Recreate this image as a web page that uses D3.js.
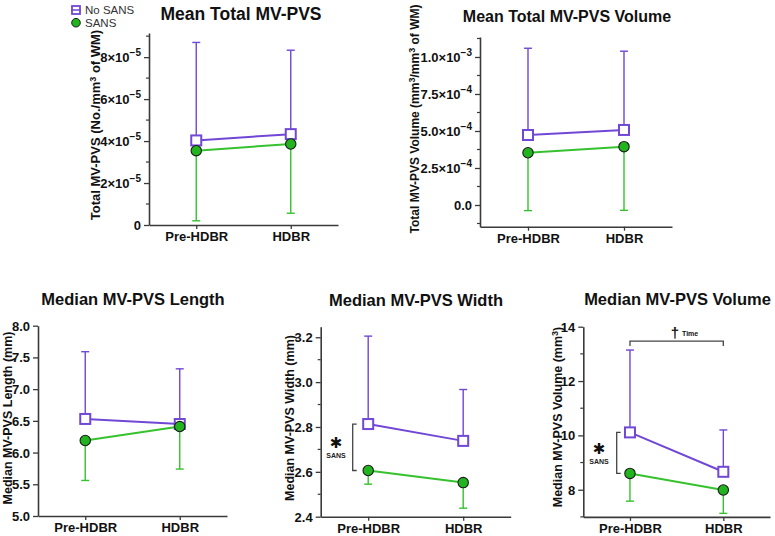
<!DOCTYPE html>
<html><head><meta charset="utf-8">
<script src="https://cdn.jsdelivr.net/npm/d3@7"></script>
<style>
body{margin:0;background:#fff;}
svg text{font-family:"Liberation Sans",Arial,Helvetica,sans-serif;}
</style></head>
<body><svg id="c" width="775" height="536"></svg>
<script>
// ---------- data ----------
const categories = ["Pre-HDBR", "HDBR"];
const seriesNames = ["No SANS", "SANS"];

// Panel 1: Mean Total MV-PVS
const p1NoSans = [4.03e-5, 4.33e-5];
const p1NoSansUpper = [8.70e-5, 8.33e-5];
const p1Sans = [3.54e-5, 3.86e-5];
const p1SansLower = [0.20e-5, 0.56e-5];
const p1Ticks = [0, 2e-5, 4e-5, 6e-5, 8e-5];
const p1TickLabels = [["0", ""], ["2×10", "-5"], ["4×10", "-5"], ["6×10", "-5"], ["8×10", "-5"]];

// Panel 2: Mean Total MV-PVS Volume
const p2NoSans = [4.73e-4, 5.07e-4];
const p2NoSansUpper = [10.59e-4, 10.39e-4];
const p2Sans = [3.53e-4, 3.94e-4];
const p2SansLower = [-0.38e-4, -0.36e-4];
const p2Ticks = [0, 2.5e-4, 5e-4, 7.5e-4, 1e-3];
const p2TickLabels = [["0.0", ""], ["2.5×10", "-4"], ["5.0×10", "-4"], ["7.5×10", "-4"], ["1.0×10", "-3"]];

// Panel 3: Median MV-PVS Length
const p3NoSans = [6.53, 6.45];
const p3NoSansUpper = [7.59, 7.32];
const p3Sans = [6.19, 6.41];
const p3SansLower = [5.56, 5.74];
const p3Ticks = [5.0, 5.5, 6.0, 6.5, 7.0, 7.5, 8.0];
const p3TickLabels = [["5.0",""],["5.5",""],["6.0",""],["6.5",""],["7.0",""],["7.5",""],["8.0",""]];

// Panel 4: Median MV-PVS Width
const p4NoSans = [2.813, 2.738];
const p4NoSansUpper = [3.205, 2.967];
const p4Sans = [2.606, 2.552];
const p4SansLower = [2.545, 2.438];
const p4Ticks = [2.4, 2.6, 2.8, 3.0, 3.2];
const p4TickLabels = [["2.4",""],["2.6",""],["2.8",""],["3.0",""],["3.2",""]];

// Panel 5: Median MV-PVS Volume
const p5NoSans = [10.11, 8.66];
const p5NoSansUpper = [13.14, 10.20];
const p5Sans = [8.60, 7.99];
const p5SansLower = [7.58, 7.13];
const p5Ticks = [8, 10, 12, 14];
const p5TickLabels = [["8",""],["10",""],["12",""],["14",""]];
const p5TimeBracket = 13.47;

// ---------- style ----------
const PURPLE = "#7147d6";
const GREEN = "#36c22f";
const GREEN_FILL = "#22b41e";
const AXIS = "#3a3a3a";
const svg = d3.select("#c");

const panels = [
  {title:"Mean Total MV-PVS", ylab:["Total MV-PVS (No./mm", "3", " of WM)"],
   x0:149, x1:338, yb:225, yt:33, dom:[0, 9.15e-5], minor:1e-5,
   ns:p1NoSans, nsU:p1NoSansUpper, s:p1Sans, sL:p1SansLower, ticks:p1Ticks, tl:p1TickLabels,
   tx:241, ty:20, tfs:17.5, lx:100, ly:125, lfs:13},
  {title:"Mean Total MV-PVS Volume", ylab:["Total MV-PVS Volume (mm", "3", "/mm", "3", " of WM)"],
   x0:480, x1:672, yb:226.7, yt:37, dom:[-1.466e-4, 11.35e-4], minor:1.25e-4,
   ns:p2NoSans, nsU:p2NoSansUpper, s:p2Sans, sL:p2SansLower, ticks:p2Ticks, tl:p2TickLabels,
   tx:567, ty:22, tfs:16, lx:419, ly:119, lfs:12},
  {title:"Median MV-PVS Length", ylab:["Median MV-PVS Length (mm)"],
   x0:38, x1:227, yb:516, yt:325.7, dom:[5, 8], minor:null,
   ns:p3NoSans, nsU:p3NoSansUpper, s:p3Sans, sL:p3SansLower, ticks:p3Ticks, tl:p3TickLabels,
   tx:133, ty:305, tfs:16.5, lx:12, ly:418, lfs:12.5},
  {title:"Median MV-PVS Width", ylab:["Median MV-PVS Width (mm)"],
   x0:320.7, x1:510.7, yb:516.7, yt:326.7, dom:[2.4, 3.247], minor:0.1,
   ns:p4NoSans, nsU:p4NoSansUpper, s:p4Sans, sL:p4SansLower, ticks:p4Ticks, tl:p4TickLabels,
   tx:416, ty:306, tfs:16.5, lx:294, ly:418, lfs:12.5},
  {title:"Median MV-PVS Volume", ylab:["Median MV-PVS Volume (mm", "3", ")"],
   x0:583.3, x1:770, yb:516.9, yt:326.7, dom:[7, 14], minor:1,
   ns:p5NoSans, nsU:p5NoSansUpper, s:p5Sans, sL:p5SansLower, ticks:p5Ticks, tl:p5TickLabels,
   tx:677.5, ty:305, tfs:16.5, lx:562, ly:417, lfs:12.5}
];

panels.forEach((p, pi) => {
  const g = svg.append("g");
  const x = d3.scalePoint().domain(categories).range([p.x0, p.x1]).padding(0.5);
  const y = d3.scaleLinear().domain(p.dom).range([p.yb, p.yt]);
  p.x = x; p.y = y;

  // title
  g.append("text").attr("x", p.tx).attr("y", p.ty).attr("text-anchor","middle")
    .attr("font-size", p.tfs).attr("font-weight","bold").attr("fill","#111").text(p.title);

  // y axis
  const ya = d3.axisLeft(y).tickValues(p.ticks).tickSize(5).tickSizeOuter(0).tickFormat("");
  const yg = g.append("g").attr("transform", `translate(${p.x0},0)`).call(ya);
  yg.select(".domain").attr("stroke", AXIS).attr("stroke-width", 1.6);
  yg.selectAll(".tick line").attr("stroke", AXIS).attr("stroke-width", 1.3);
  yg.selectAll(".tick").each(function(d, i){
    const t = d3.select(this).append("text").attr("x", -8).attr("dy","0.35em")
      .attr("text-anchor","end").attr("font-size", 13).attr("font-weight","bold").attr("fill","#111");
    const lab = p.tl[i];
    t.append("tspan").text(lab[0]);
    if (lab[1]) t.append("tspan").attr("font-size", 10).attr("dy", "-0.6em").text(lab[1].replace("-", "\u2212"));
  });
  if (p.minor) {
    const minors = d3.range(Math.ceil(p.dom[0]/p.minor), Math.floor(p.dom[1]/p.minor)+1)
      .map(k => k*p.minor).filter(v => !p.ticks.some(t => Math.abs(t - v) < p.minor/10));
    yg.selectAll(".minor").data(minors).enter().append("line")
      .attr("x1", -3).attr("x2", 0).attr("y1", d => y(d)).attr("y2", d => y(d))
      .attr("stroke", AXIS).attr("stroke-width", 1.2);
  }

  // x axis
  const xa = d3.axisBottom(x).tickSize(4).tickSizeOuter(0);
  const xg = g.append("g").attr("transform", `translate(0,${p.yb})`).call(xa);
  xg.select(".domain").attr("stroke", AXIS).attr("stroke-width", 1.6);
  xg.selectAll(".tick line").attr("stroke", AXIS).attr("stroke-width", 1.3);
  xg.selectAll(".tick text").attr("font-size", 13).attr("font-weight","bold").attr("fill","#111")
    .attr("y", 7).attr("dy","0.71em").style("font-family", '"Liberation Sans",Arial,sans-serif');

  // y label
  const yl = g.append("text").attr("transform", `translate(${p.lx},${p.ly}) rotate(-90)`)
    .attr("text-anchor","middle").attr("font-size", p.lfs).attr("font-weight","bold").attr("fill","#111");
  const supShift = 4.5;
  p.ylab.forEach((s, k) => {
    const ts = yl.append("tspan").text(s);
    if (k % 2 === 1) ts.attr("font-size", 9).attr("dy", -supShift);
    else if (k > 0) ts.attr("dy", supShift);
  });

  // error bars
  const capW = 4;
  const eb = (vals, ends, color) => {
    categories.forEach((c, i) => {
      const cx = x(c);
      g.append("line").attr("x1", cx).attr("x2", cx).attr("y1", y(vals[i])).attr("y2", y(ends[i]))
        .attr("stroke", color).attr("stroke-width", 1.4);
      g.append("line").attr("x1", cx-capW).attr("x2", cx+capW).attr("y1", y(ends[i])).attr("y2", y(ends[i]))
        .attr("stroke", color).attr("stroke-width", 1.4);
    });
  };
  eb(p.ns, p.nsU, PURPLE);
  eb(p.s, p.sL, GREEN);

  const line = d3.line().x((d,i) => x(categories[i])).y(d => y(d));
  g.append("path").attr("d", line(p.ns)).attr("fill","none").attr("stroke", PURPLE).attr("stroke-width", 2);
  g.append("path").attr("d", line(p.s)).attr("fill","none").attr("stroke", GREEN).attr("stroke-width", 2);

  // markers
  g.selectAll(".sq").data(p.ns).enter().append("rect")
    .attr("x", (d,i) => x(categories[i]) - 5).attr("y", d => y(d) - 5)
    .attr("width", 10).attr("height", 10).attr("fill","#fff").attr("stroke", PURPLE).attr("stroke-width", 2);
  g.selectAll(".ci").data(p.s).enter().append("circle")
    .attr("cx", (d,i) => x(categories[i])).attr("cy", d => y(d)).attr("r", 5.2)
    .attr("fill", GREEN_FILL).attr("stroke", "#1a1a1a").attr("stroke-width", 1.1);
});

// ---------- significance annotations ----------
function sansBracket(p, bx, sx) {
  const g = svg.append("g");
  const y1 = p.y(p.ns[0]), y2 = p.y(p.s[0]);
  g.append("path").attr("d", `M${bx+4},${y1}H${bx}V${y2}H${bx+4}`)
    .attr("fill","none").attr("stroke", "#444").attr("stroke-width", 1.3);
  const my = (y1 + y2) / 2;
  g.append("text").attr("x", sx).attr("y", my + 1).attr("text-anchor","middle")
    .attr("font-size", 15).attr("fill","#111").style("font-family","DejaVu Sans").text("\u2731");
  g.append("text").attr("x", sx).attr("y", my + 11).attr("text-anchor","middle")
    .attr("font-size", 7).attr("font-weight","bold").attr("fill","#222").text("SANS");
}
sansBracket(panels[3], 352.7, 336);
sansBracket(panels[4], 616.7, 599);

// time bracket on panel 5
(function(){
  const p = panels[4];
  const g = svg.append("g");
  const xa = p.x(categories[0]), xb = p.x(categories[1]);
  const yy = p.y(p5TimeBracket);
  g.append("path").attr("d", `M${xa},${yy+5}V${yy}H${xb}V${yy+5}`)
    .attr("fill","none").attr("stroke","#444").attr("stroke-width",1.3);
  const t = g.append("text").attr("x", (xa+xb)/2 - 6).attr("y", yy - 3).attr("fill","#111");
  t.append("tspan").attr("font-size", 15).attr("font-weight","bold").text("\u2020");
  t.append("tspan").attr("font-size", 7).attr("font-weight","bold").attr("dx", 3).attr("dy", -2).text("Time");
})();

// ---------- legend ----------
const lg = svg.append("g");
lg.append("rect").attr("x", 72).attr("y", 6).attr("width", 8).attr("height", 8)
  .attr("fill","#fff").attr("stroke", PURPLE).attr("stroke-width", 1.8);
lg.append("line").attr("x1", 71).attr("x2", 81).attr("y1", 10).attr("y2", 10).attr("stroke", PURPLE).attr("stroke-width", 1.5);
lg.append("circle").attr("cx", 76).attr("cy", 22.7).attr("r", 4.3).attr("fill", GREEN_FILL).attr("stroke","#1a1a1a").attr("stroke-width",1);
lg.selectAll(".lt").data(seriesNames).enter().append("text")
  .attr("x", 85).attr("y", (d,i) => 14 + i*12.7).attr("font-size", 11.5).attr("fill","#333").text(d => d);
</script></body></html>
